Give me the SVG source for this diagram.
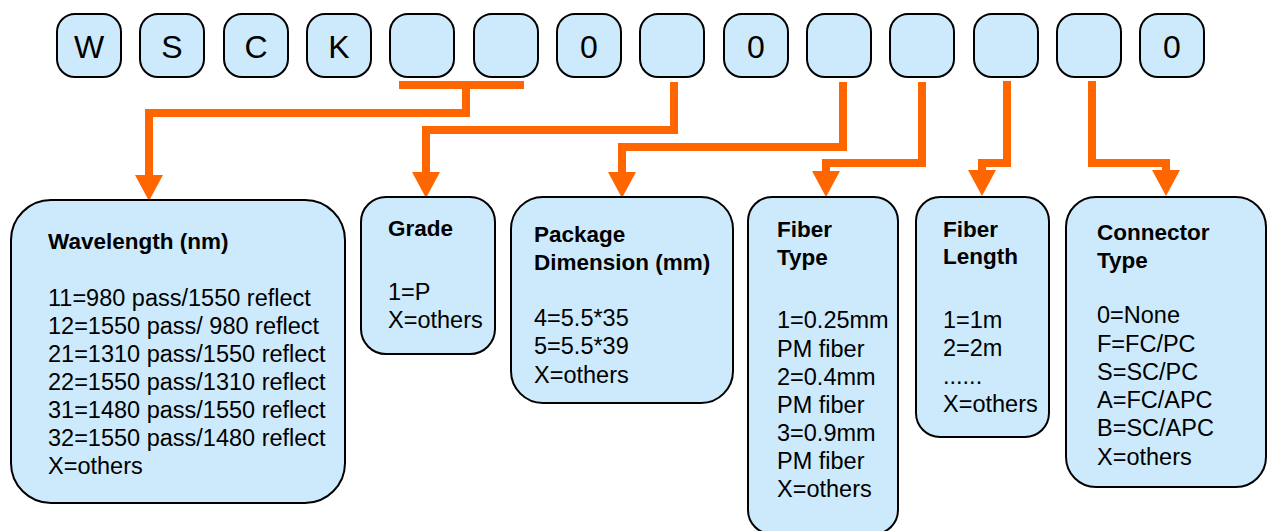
<svg xmlns="http://www.w3.org/2000/svg" width="1269" height="531" viewBox="0 0 1269 531">
<style>
.k{fill:#cdeafc;stroke:#000;stroke-width:2}
.t{font-family:"Liberation Sans",Arial,sans-serif;font-size:32px;fill:#000;text-anchor:middle}
.h{font-family:"Liberation Sans",Arial,sans-serif;font-size:22.5px;font-weight:bold;fill:#000}
.b{font-family:"Liberation Sans",Arial,sans-serif;font-size:23.5px;fill:#000}
.c{fill:none;stroke:#ff6600;stroke-width:8;stroke-linejoin:miter;stroke-linecap:butt}
</style>
<defs>
<marker id="ah" markerUnits="userSpaceOnUse" markerWidth="27" markerHeight="28" refX="0" refY="13.5" orient="auto" viewBox="0 0 25 27">
<path d="M0,0 L25,13.5 L0,27 z" fill="#ff6600"/>
</marker>
</defs>
<rect width="1269" height="531" fill="#fff"/>
<g id="code">
<g id="c0"><rect class="k" x="57" y="14" width="64" height="63" rx="18"/><text class="t" x="89" y="58">W</text></g>
<g id="c1"><rect class="k" x="140" y="14" width="64" height="63" rx="18"/><text class="t" x="172" y="58">S</text></g>
<g id="c2"><rect class="k" x="224" y="14" width="64" height="63" rx="18"/><text class="t" x="256" y="58">C</text></g>
<g id="c3"><rect class="k" x="307" y="14" width="64" height="63" rx="18"/><text class="t" x="339" y="58">K</text></g>
<g id="c4"><rect class="k" x="390" y="14" width="64" height="63" rx="18"/></g>
<g id="c5"><rect class="k" x="474" y="14" width="64" height="63" rx="18"/></g>
<g id="c6"><rect class="k" x="557" y="14" width="64" height="63" rx="18"/><text class="t" x="589" y="58">0</text></g>
<g id="c7"><rect class="k" x="640" y="14" width="64" height="63" rx="18"/></g>
<g id="c8"><rect class="k" x="724" y="14" width="64" height="63" rx="18"/><text class="t" x="756" y="58">0</text></g>
<g id="c9"><rect class="k" x="807" y="14" width="64" height="63" rx="18"/></g>
<g id="c10"><rect class="k" x="890" y="14" width="64" height="63" rx="18"/></g>
<g id="c11"><rect class="k" x="974" y="14" width="64" height="63" rx="18"/></g>
<g id="c12"><rect class="k" x="1057" y="14" width="64" height="63" rx="18"/></g>
<g id="c13"><rect class="k" x="1140" y="14" width="64" height="63" rx="18"/><text class="t" x="1172" y="58">0</text></g>
</g>
<g id="connectors">
<line class="c" x1="399" y1="85" x2="524" y2="85"/>
<polyline class="c" points="466,85 466,113 149,113 149,175" marker-end="url(#ah)"/>
<polyline class="c" points="674,82 674,130 426,130 426,172" marker-end="url(#ah)"/>
<polyline class="c" points="843,82 843,147 622,147 622,172" marker-end="url(#ah)"/>
<polyline class="c" points="922,82 922,163 826,163 826,171" marker-end="url(#ah)"/>
<polyline class="c" points="1007,81 1007,163 982,163 982,170" marker-end="url(#ah)"/>
<polyline class="c" points="1092,81 1092,163 1166,163 1166,170" marker-end="url(#ah)"/>
</g>
<g id="wavelength">
<rect class="k" x="11" y="200" width="334" height="303" rx="40"/>
<text class="h" x="48" y="249">Wavelength (nm)</text>
<text class="b" x="48" y="306">11=980 pass/1550 reflect</text>
<text class="b" x="48" y="334">12=1550 pass/ 980 reflect</text>
<text class="b" x="48" y="362">21=1310 pass/1550 reflect</text>
<text class="b" x="48" y="390">22=1550 pass/1310 reflect</text>
<text class="b" x="48" y="418">31=1480 pass/1550 reflect</text>
<text class="b" x="48" y="446">32=1550 pass/1480 reflect</text>
<text class="b" x="48" y="474">X=others</text>
</g>
<g id="grade">
<rect class="k" x="361" y="197" width="134" height="157" rx="25"/>
<text class="h" x="388" y="236">Grade</text>
<text class="b" x="388" y="300">1=P</text>
<text class="b" x="388" y="328">X=others</text>
</g>
<g id="package">
<rect class="k" x="511" y="197" width="222" height="206" rx="32"/>
<text class="h" x="534" y="242">Package</text>
<text class="h" x="534" y="270">Dimension (mm)</text>
<text class="b" x="534" y="326">4=5.5*35</text>
<text class="b" x="534" y="354">5=5.5*39</text>
<text class="b" x="534" y="383">X=others</text>
</g>
<g id="fibertype">
<rect class="k" x="748" y="197" width="150" height="337" rx="24"/>
<text class="h" x="777" y="237">Fiber</text>
<text class="h" x="777" y="265">Type</text>
<text class="b" x="777" y="328">1=0.25mm</text>
<text class="b" x="777" y="357">PM fiber</text>
<text class="b" x="777" y="385">2=0.4mm</text>
<text class="b" x="777" y="413">PM fiber</text>
<text class="b" x="777" y="441">3=0.9mm</text>
<text class="b" x="777" y="469">PM fiber</text>
<text class="b" x="777" y="497">X=others</text>
</g>
<g id="fiberlength">
<rect class="k" x="916" y="197" width="133" height="240" rx="24"/>
<text class="h" x="943" y="237">Fiber</text>
<text class="h" x="943" y="264">Length</text>
<text class="b" x="943" y="328">1=1m</text>
<text class="b" x="943" y="356">2=2m</text>
<text class="b" x="943" y="384">......</text>
<text class="b" x="943" y="412">X=others</text>
</g>
<g id="connector">
<rect class="k" x="1066" y="197" width="200" height="290" rx="30"/>
<text class="h" x="1097" y="240">Connector</text>
<text class="h" x="1097" y="268">Type</text>
<text class="b" x="1097" y="323">0=None</text>
<text class="b" x="1097" y="352">F=FC/PC</text>
<text class="b" x="1097" y="380">S=SC/PC</text>
<text class="b" x="1097" y="408">A=FC/APC</text>
<text class="b" x="1097" y="436">B=SC/APC</text>
<text class="b" x="1097" y="465">X=others</text>
</g>
</svg>
